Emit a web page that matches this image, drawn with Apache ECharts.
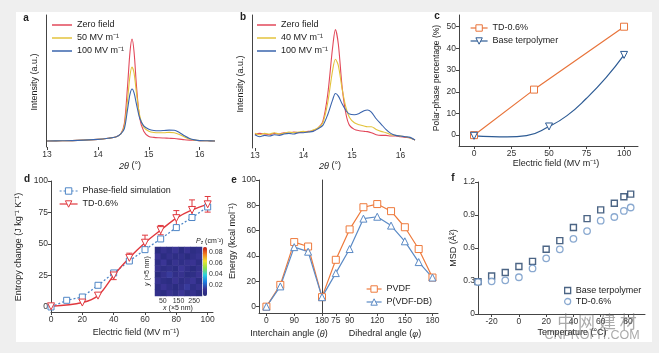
<!DOCTYPE html>
<html lang="en">
<head>
<meta charset="UTF-8">
<title>Polar phase panels</title>
<script src="https://cdn.jsdelivr.net/npm/echarts@6/dist/echarts.min.js"></script>
<style>
  html, body { margin: 0; padding: 0; background: #efefef; }
  #chart { width: 659px; height: 353px; }
</style>
</head>
<body>
<div id="chart"></div>
<script>
// ---------- data ----------
// a: XRD, terpolymer (intensity in arbitrary units, 0..100)
var thetaA    = [13.0, 13.3, 13.6, 14.0, 14.2, 14.35, 14.45, 14.52, 14.58, 14.63, 14.67, 14.71, 14.76, 14.82, 14.9, 15.0, 15.1, 15.2, 15.3, 15.4, 15.5, 15.6, 15.7, 15.8, 15.9, 16.0, 16.15, 16.3];
var zeroA     = [4.5, 4.7, 5.0, 5.8, 6.6, 7.6, 10, 18, 45, 72, 81.8, 72, 45, 22, 12, 8.0, 7.3, 7.0, 6.8, 6.6, 6.4, 6.0, 5.5, 5.2, 5.0, 4.8, 4.7, 4.6];
var fiftyA    = [4.5, 4.7, 5.0, 5.8, 6.6, 7.6, 10, 16, 35, 54, 60.6, 56, 40, 24, 15, 12, 11, 10.8, 10.8, 11.1, 10.8, 9.5, 7.5, 6.0, 5.2, 4.8, 4.7, 4.6];
var hundredA  = [4.5, 4.7, 5.0, 5.8, 6.6, 7.6, 10, 14, 28, 40, 43.9, 41, 32, 22, 16, 13.5, 12.5, 12.3, 12.5, 12.8, 12.7, 11, 8.5, 6.5, 5.4, 4.8, 4.7, 4.6];

// b: XRD, TD-0.6%
var thetaB    = [13.0, 13.1, 13.2, 13.3, 13.4, 13.5, 13.6, 13.7, 13.8, 13.9, 14.0, 14.1, 14.2, 14.3, 14.4, 14.5, 14.6, 14.66, 14.72, 14.8, 14.88, 14.95, 15.05, 15.15, 15.25, 15.32, 15.4, 15.5, 15.6, 15.7, 15.8, 15.9, 16.0, 16.1, 16.2, 16.3];
var zeroB     = [10, 11, 10.5, 10, 11, 10.5, 11.5, 11, 12, 11.5, 12, 12.5, 13, 15, 20, 40, 75, 89, 78, 45, 25, 17, 14, 13, 12.5, 12.3, 11.5, 10, 9.5, 9.5, 9, 9, 8.5, 8, 7.5, 6];
var fortyB    = [11, 10, 11, 10.5, 11.5, 10.5, 11, 12, 11.5, 12, 12.5, 12, 13.5, 15, 19, 34, 58, 66.7, 62, 44, 30, 23, 19, 17.5, 16.5, 16, 16, 14, 12.5, 11.5, 10, 9.5, 9, 8.5, 7.5, 6];
var hundredB  = [10, 8.5, 9.5, 9, 10, 9.5, 10.5, 11, 10.5, 11.5, 11.5, 12, 12.5, 14.5, 17, 25, 36, 41, 39, 33, 28, 25.5, 25, 26, 28, 28.6, 27, 22, 18, 14, 11, 9.5, 9, 8.5, 8, 6];
var thetaTicks = [13, 14, 15, 16];

// c: polar-phase percentage vs field
var fieldTD_c  = [0, 40, 100];
var polarTD_c  = [0, 21, 50];
var fieldBase_c = [0, 50, 100];
var polarBase_c = [-0.3, 4, 37];
var fitField_c  = [12, 22, 35, 62, 75, 88];   // fitted curve through base points
var fitPolar_c  = [-0.7, -0.8, -0.2, 9, 17, 26.5];
var fieldTicks_c = [0, 25, 50, 75, 100];
var polarTicks_c = [0, 10, 20, 30, 40, 50];

// d: entropy change
var fieldSim_d = [0, 10, 20, 30, 40, 50, 60, 70, 80, 90, 100];
var entSim_d   = [0, 5.3, 7.9, 17.2, 27, 36.5, 45.5, 54, 63, 71, 79.4];
var fieldTD_d  = [0, 20, 30, 40, 50, 60, 70, 80, 90, 100];
var entTD_d    = [0.5, 3.5, 9, 25, 39, 51, 61, 70.5, 77, 81.5];
var errTD_d    = [0, 0, 0, 3.3, 3.7, 6, 3.7, 6, 8, 6.2];
var fieldTicks_d = [0, 20, 40, 60, 80, 100];
var entTicks_d   = [0, 25, 50, 75, 100];
// inset: P_z map (mostly low values)
var heatVals = [
  [0.008, 0.004, 0.011, 0.006, 0.013, 0.005, 0.009, 0.003],
  [0.005, 0.012, 0.007, 0.003, 0.008, 0.014, 0.006, 0.010],
  [0.011, 0.006, 0.004, 0.012, 0.005, 0.009, 0.013, 0.004],
  [0.003, 0.009, 0.014, 0.007, 0.010, 0.004, 0.006, 0.012],
  [0.010, 0.005, 0.008, 0.004, 0.013, 0.007, 0.003, 0.009],
  [0.006, 0.013, 0.003, 0.011, 0.006, 0.010, 0.012, 0.005],
  [0.012, 0.004, 0.009, 0.005, 0.008, 0.003, 0.007, 0.011],
  [0.004, 0.010, 0.006, 0.013, 0.004, 0.012, 0.005, 0.008]
];
var insetTicks = [50, 150, 250];
var cbarTicks = [0.02, 0.04, 0.06, 0.08];

// e: energy vs angle
var thetaE     = [0, 45, 90, 135, 180];
var pvdfTheta  = [0, 17.2, 51, 47.5, 7.5];
var dbTheta    = [0, 16, 47, 43.4, 7.5];
var phiE       = [60, 75, 90, 105, 120, 135, 150, 165, 180];
var pvdfPhi    = [7.5, 37, 61, 78.5, 81, 75.4, 62.7, 45.5, 23];
var dbPhi      = [7.5, 26.5, 45.5, 69.5, 71, 64, 51.6, 35.2, 23];
var thetaTicks_e = [0, 90, 180];
var phiTicks_e   = [75, 90, 120, 150, 180];
var energyTicks  = [0, 20, 40, 60, 80, 100];

// f: MSD vs temperature
var tempF    = [-30, -20, -10, 0, 10, 20, 30, 40, 50, 60, 70, 77, 82];
var msdBase  = [0.294, 0.345, 0.377, 0.432, 0.478, 0.588, 0.667, 0.787, 0.867, 0.947, 1.007, 1.066, 1.09];
var msdTD    = [0.29, 0.297, 0.306, 0.334, 0.414, 0.506, 0.588, 0.683, 0.754, 0.848, 0.882, 0.937, 0.968];
var tempTicks = [-20, 0, 20, 40, 60, 80];
var msdTicks  = [0, 0.3, 0.6, 0.9, 1.2];

// ---------- styling ----------
var FONT = 'Liberation Sans, Arial, sans-serif';
var AXIS = '#444';
var RED = '#e2485a', YEL = '#e3c33c', BLU = '#3a64ad';
var ORG = '#e8743b', NAVY = '#2d5b94';
var RED_D = '#e0383e', BLU_D = '#4f86c6';
var ORG_E = '#ee7a3c', BLU_E = '#5b8ac5';
var NAVY_F = '#1f3e66', LBLU_F = '#6d93c4';

function zip(xs, ys) { return xs.map(function (x, i) { return [x, ys[i]]; }); }

function valAxis(gi, min, max, ticks, o) {
  o = o || {};
  return {
    type: 'value', gridIndex: gi, min: min, max: max, position: o.pos,
    splitLine: { show: false },
    axisLine: { show: o.line !== false, onZero: false, lineStyle: { color: AXIS, width: 1 } },
    axisTick: { show: ticks.length > 0 && o.tick !== false, length: o.tickLen || 3, customValues: ticks, lineStyle: { color: AXIS } },
    axisLabel: { show: ticks.length > 0, customValues: ticks, fontSize: o.fs || 8.5, color: '#333', margin: o.margin || 3, fontFamily: FONT }
  };
}

function txt(x, y, s, o) {
  o = o || {};
  return {
    type: 'text', x: x, y: y, rotation: o.rot || 0, z: o.z || 5, silent: true,
    style: {
      text: s, x: 0, y: 0, fill: o.fill || '#222',
      font: (o.bold ? 'bold ' : '') + (o.fs || 9) + 'px ' + (o.family || FONT),
      align: o.align || 'center', verticalAlign: 'middle', rich: o.rich
    }
  };
}
var ITAL = { it: { fontStyle: 'italic', fontSize: 9, fontFamily: FONT, fill: '#222' } };

function xrd(name, xi, xs, ys, color) {
  return { type: 'line', name: name, xAxisIndex: xi, yAxisIndex: xi, data: zip(xs, ys),
    symbol: 'none', smooth: 0.3, lineStyle: { color: color, width: 1.1 }, itemStyle: { color: color } };
}
function marked(name, gi, data, sym, color, extra) {
  return Object.assign({ type: 'line', name: name, xAxisIndex: gi, yAxisIndex: gi, data: data,
    symbol: sym, symbolSize: 7, lineStyle: { color: color, width: 1.2 },
    itemStyle: { color: '#fff', borderColor: color, borderWidth: 1 } }, extra || {});
}
// legend entry with an open marker on a line
function openItem(name, color, dash) {
  return { name: name, itemStyle: { color: '#fff', borderColor: color, borderWidth: 1 },
    lineStyle: { color: color, width: 1.2, type: dash || 'solid' } };
}

// base terpolymer in c: markers only on measured points, fit points unmarked
var baseLineC = fieldBase_c.map(function (x, i) { return { value: [x, polarBase_c[i]] }; })
  .concat(fitField_c.map(function (x, i) { return { value: [x, fitPolar_c[i]], symbol: 'none' }; }))
  .sort(function (p, q) { return p.value[0] - q.value[0]; });

var phiPvdf = zip(phiE, pvdfPhi).map(function (p, i) { return i === 0 ? { value: p, symbol: 'none' } : p; });
var phiDb = zip(phiE, dbPhi).map(function (p, i) { return i === 0 ? { value: p, symbol: 'none' } : p; });

var heatData = [];
heatVals.forEach(function (row, r) { row.forEach(function (v, c) { heatData.push([c, r, v]); }); });
var heatCats = heatVals.map(function (_, i) { return String(i); });

var errData = [];
fieldTD_d.forEach(function (x, i) {
  if (errTD_d[i] > 0) errData.push([x, entTD_d[i] - errTD_d[i], entTD_d[i] + errTD_d[i]]);
});

var legFmt = function (n) { return n.split('|')[1]; };
function leg(o) {
  return Object.assign({ orient: 'vertical', padding: 0, itemGap: 1, itemWidth: 20, itemHeight: 8,
    formatter: legFmt, selectedMode: false,
    textStyle: { fontSize: 9, color: '#222', fontFamily: FONT, lineHeight: 12 } }, o);
}

var grids = [
  { left: 46, top: 15, width: 169, height: 132 },   // a
  { left: 252, top: 15, width: 163, height: 133 },  // b
  { left: 459, top: 15, width: 179, height: 131 },  // c
  { left: 51, top: 181, width: 162, height: 131 },  // d
  { left: 259, top: 180, width: 63, height: 133 },  // e, interchain
  { left: 322, top: 180, width: 116, height: 133 }, // e, dihedral
  { left: 478, top: 182, width: 167, height: 132 }, // f
  { left: 155, top: 247, width: 47, height: 49 },   // inset map
  { left: 203, top: 247, width: 4, height: 49 }     // colour bar ticks
].map(function (g) { return Object.assign(g, { containLabel: false, outerBoundsMode: 'none' }); });

var chart = echarts.init(document.getElementById('chart'), null, { renderer: 'canvas' });
var option = {
  animation: false,
  backgroundColor: '#efefef',
  textStyle: { fontFamily: FONT },
  grid: grids,
  xAxis: [
    valAxis(0, 12.98, 16.3, thetaTicks, { line: false }),
    valAxis(1, 12.94, 16.3, thetaTicks, { line: false }),
    valAxis(2, -10, 109.3, fieldTicks_c),
    valAxis(3, 0, 103.4, fieldTicks_d),
    valAxis(4, -24, 180, thetaTicks_e),
    valAxis(5, 60, 186, phiTicks_e),
    valAxis(6, -30, 92.5, tempTicks),
    { type: 'category', gridIndex: 7, data: heatCats, show: false, position: 'bottom' },
    valAxis(7, 0, 300, insetTicks, { line: false, tick: false, fs: 7, margin: 2, pos: 'bottom' }),
    { type: 'value', gridIndex: 8, show: false }
  ],
  yAxis: [
    valAxis(0, 0, 100, []),
    valAxis(1, 0, 100, []),
    valAxis(2, -5, 55.4, polarTicks_c),
    valAxis(3, -4, 100, entTicks_d),
    valAxis(4, -5, 100, energyTicks),
    valAxis(5, -5, 100, []),
    valAxis(6, 0, 1.2, msdTicks),
    { type: 'category', gridIndex: 7, data: heatCats, show: false },
    valAxis(8, 0, 0.09, cbarTicks, { line: false, tick: false, fs: 7, margin: 2, pos: 'right' })
  ],
  visualMap: {
    type: 'continuous', seriesIndex: 17, min: 0, max: 0.09, left: 203, top: 247,
    itemWidth: 4, itemHeight: 49, padding: 0, calculable: false, text: null, orient: 'vertical',
    inRange: { color: ['#262a7a', '#3a3494', '#1e7be0', '#2ad0e0', '#8ee04a', '#f0e030', '#f07a20', '#c01818'] }
  },
  legend: [
    leg({ left: 52, top: 19, itemHeight: 1.5, data: [
      { name: 'a|Zero field', icon: 'rect' }, { name: 'a|50 MV m⁻¹', icon: 'rect' }, { name: 'a|100 MV m⁻¹', icon: 'rect' }] }),
    leg({ left: 257, top: 19, itemWidth: 19, itemHeight: 1.5, data: [
      { name: 'b|Zero field', icon: 'rect' }, { name: 'b|40 MV m⁻¹', icon: 'rect' }, { name: 'b|100 MV m⁻¹', icon: 'rect' }] }),
    leg({ left: 470, top: 22, itemWidth: 17,
      data: [openItem('c|TD-0.6%', ORG), openItem('c|Base terpolymer', NAVY)] }),
    leg({ left: 59, top: 185, itemWidth: 18,
      data: [openItem('d|Phase-field simulation', BLU_D, [2, 2]), openItem('d|TD-0.6%', RED_D)] }),
    leg({ left: 366, top: 283, itemWidth: 15,
      data: [openItem('e|PVDF', ORG_E), openItem('e|P(VDF-DB)', BLU_E)] }),
    leg({ left: 564, top: 285, itemWidth: 6, itemHeight: 6, itemGap: 0,
      textStyle: { fontSize: 9, color: '#222', fontFamily: FONT, lineHeight: 11 },
      data: [{ name: 'f|Base terpolymer', itemStyle: { color: '#fff', borderColor: NAVY_F, borderWidth: 1.3 } },
             { name: 'f|TD-0.6%', itemStyle: { color: '#fff', borderColor: LBLU_F, borderWidth: 1.3 } }] })
  ],
  series: [
    xrd('a|Zero field', 0, thetaA, zeroA, RED),
    xrd('a|50 MV m⁻¹', 0, thetaA, fiftyA, YEL),
    xrd('a|100 MV m⁻¹', 0, thetaA, hundredA, BLU),
    xrd('b|Zero field', 1, thetaB, zeroB, RED),
    xrd('b|40 MV m⁻¹', 1, thetaB, fortyB, YEL),
    xrd('b|100 MV m⁻¹', 1, thetaB, hundredB, BLU),
    marked('c|TD-0.6%', 2, zip(fieldTD_c, polarTD_c), 'rect', ORG),
    marked('c|Base terpolymer', 2, baseLineC, 'triangle', NAVY, { symbolRotate: 180, smooth: 0.5 }),
    marked('d|Phase-field simulation', 3, zip(fieldSim_d, entSim_d), 'rect', BLU_D,
      { symbolSize: 6, lineStyle: { color: BLU_D, width: 1.3, type: [2, 2] } }),
    marked('d|TD-0.6%', 3, zip(fieldTD_d, entTD_d), 'triangle', RED_D,
      { symbolRotate: 180, smooth: 0.35, lineStyle: { color: RED_D, width: 1.4 } }),
    {
      type: 'custom', xAxisIndex: 3, yAxisIndex: 3, data: errData, z: 3,
      encode: { x: 0, y: [1, 2] },
      renderItem: function (params, api) {
        var x = api.value(0);
        var lo = api.coord([x, api.value(1)]);
        var hi = api.coord([x, api.value(2)]);
        var w = 3, st = { stroke: RED_D, lineWidth: 1 };
        return { type: 'group', children: [
          { type: 'line', shape: { x1: lo[0], y1: lo[1], x2: hi[0], y2: hi[1] }, style: st },
          { type: 'line', shape: { x1: lo[0] - w, y1: lo[1], x2: lo[0] + w, y2: lo[1] }, style: st },
          { type: 'line', shape: { x1: hi[0] - w, y1: hi[1], x2: hi[0] + w, y2: hi[1] }, style: st }
        ] };
      }
    },
    marked('e|PVDF', 4, zip(thetaE, pvdfTheta), 'rect', ORG_E),
    marked('e|P(VDF-DB)', 4, zip(thetaE, dbTheta), 'triangle', BLU_E),
    marked('e|PVDF', 5, phiPvdf, 'rect', ORG_E),
    marked('e|P(VDF-DB)', 5, phiDb, 'triangle', BLU_E),
    { type: 'scatter', name: 'f|Base terpolymer', xAxisIndex: 6, yAxisIndex: 6, data: zip(tempF, msdBase),
      symbol: 'rect', symbolSize: 6, itemStyle: { color: '#fff', borderColor: NAVY_F, borderWidth: 1.4 } },
    { type: 'scatter', name: 'f|TD-0.6%', xAxisIndex: 6, yAxisIndex: 6, data: zip(tempF, msdTD),
      symbol: 'circle', symbolSize: 6.5, itemStyle: { color: '#fff', borderColor: LBLU_F, borderWidth: 1.3 } },
    { type: 'heatmap', xAxisIndex: 7, yAxisIndex: 7, data: heatData, z: 4 }
  ],
  graphic: [
    { type: 'rect', shape: { x: 16, y: 12, width: 636, height: 330 }, style: { fill: '#fff' }, z: -10, silent: true },
    // panel letters
    txt(26, 18, 'a', { bold: true, fs: 10 }),
    txt(243, 17, 'b', { bold: true, fs: 10 }),
    txt(437, 16, 'c', { bold: true, fs: 10 }),
    txt(27, 179, 'd', { bold: true, fs: 10 }),
    txt(234, 180, 'e', { bold: true, fs: 10 }),
    txt(453, 178, 'f', { bold: true, fs: 10 }),
    // y titles
    txt(35, 82, 'Intensity (a.u.)', { rot: Math.PI / 2 }),
    txt(241, 84, 'Intensity (a.u.)', { rot: Math.PI / 2 }),
    txt(437, 78, 'Polar-phase percentage (%)', { rot: Math.PI / 2, fs: 8.5 }),
    txt(19, 247, 'Entropy change (J kg⁻¹ K⁻¹)', { rot: Math.PI / 2 }),
    txt(233, 241, 'Energy (kcal mol⁻¹)', { rot: Math.PI / 2 }),
    txt(454, 248, 'MSD (Å²)', { rot: Math.PI / 2 }),
    // x titles
    txt(130, 166, '{it|2θ} (°)', { rich: ITAL }),
    txt(330, 166, '{it|2θ} (°)', { rich: ITAL }),
    txt(556, 164, 'Electric field (MV m⁻¹)'),
    txt(136, 333, 'Electric field (MV m⁻¹)'),
    txt(289, 334, 'Interchain angle ({it|θ})', { rich: ITAL }),
    txt(385, 334, 'Dihedral angle ({it|φ})', { rich: ITAL }),
    txt(572, 333, 'Temperature (°C)'),
    // inset labels
    txt(196, 241, '{it|P}{sub|z} (cm⁻²)', { fs: 7, align: 'left',
      rich: { it: { fontStyle: 'italic', fontSize: 7, fill: '#222' }, sub: { fontSize: 5, fill: '#222', padding: [4, 0, 0, 0] } } }),
    txt(178, 308, '{it|x} (×5 nm)', { fs: 7, rich: { it: { fontStyle: 'italic', fontSize: 7, fill: '#222' } } }),
    txt(147, 271, '{it|y} (×5 nm)', { fs: 7, rot: Math.PI / 2, rich: { it: { fontStyle: 'italic', fontSize: 7, fill: '#222' } } }),
    // watermark
    txt(597, 322, '中 网 建 材', { fs: 17, family: 'Noto Sans CJK SC', fill: 'rgba(100,100,100,0.55)', z: 20 }),
    txt(592, 335.5, 'CNPROFIT.COM', { fs: 12.5, fill: 'rgba(100,100,100,0.55)', z: 20 })
  ]
};
chart.setOption(option);
</script>
</body>
</html>
